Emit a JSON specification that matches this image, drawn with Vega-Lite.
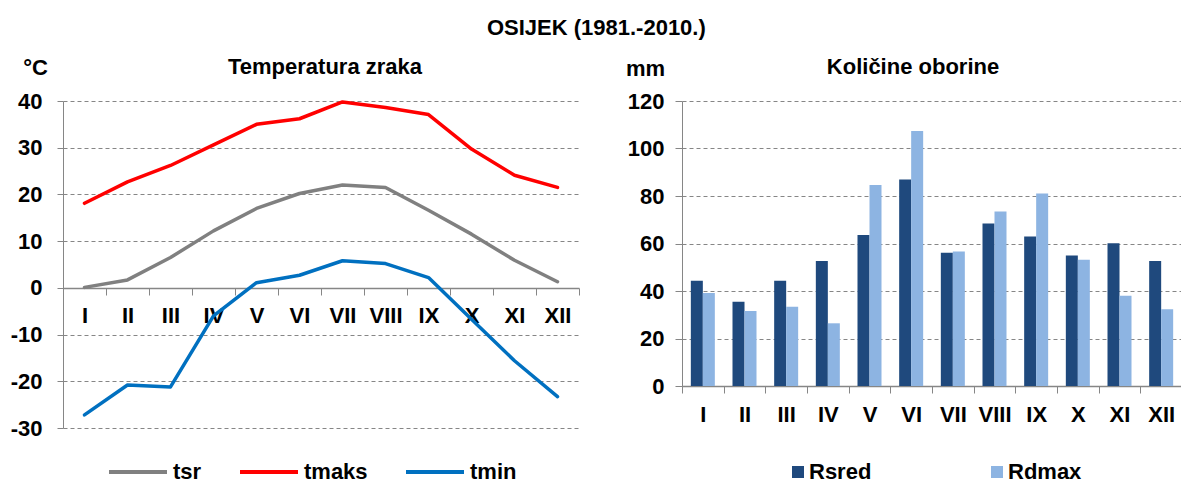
{
  "$schema": "https://vega.github.io/schema/vega-lite/v6.json",
  "background": "white",
  "padding": {"left": 10, "top": 17, "right": 0, "bottom": 0},
  "title": {"text": "OSIJEK (1981.-2010.)", "fontSize": 22, "font": "Liberation Sans", "fontWeight": "bold", "anchor": "middle", "offset": 16, "color": "black"},
  "config": {
    "font": "Liberation Sans",
    "view": {"stroke": null},
    "axis": {"labelFont": "Liberation Sans", "labelFontSize": 22, "labelFontWeight": "bold", "labelColor": "black", "domainColor": "#868686", "tickColor": "#868686", "gridColor": "#868686", "gridDash": [4, 3], "titleFont": "Liberation Sans", "titleFontSize": 22, "titleFontWeight": "bold", "titleColor": "black"},
    "legend": {"labelFont": "Liberation Sans", "labelFontSize": 22, "labelFontWeight": "bold", "labelColor": "black", "padding": 0}
  },
  "spacing": 45,
  "resolve": {"scale": {"color": "independent"}, "legend": {"color": "independent"}},
  "hconcat": [
    {
      "width": 516,
      "height": 327,
      "title": {"text": "Temperatura zraka", "fontSize": 22, "fontWeight": "bold", "font": "Liberation Sans", "color": "black", "frame": "group", "anchor": "middle", "dx": 4, "offset": -23},
      "data": {"values": [
        {"month": "I", "series": "tsr", "value": 0.1},
        {"month": "II", "series": "tsr", "value": 1.7},
        {"month": "III", "series": "tsr", "value": 6.5},
        {"month": "IV", "series": "tsr", "value": 12.2},
        {"month": "V", "series": "tsr", "value": 17.0},
        {"month": "VI", "series": "tsr", "value": 20.2},
        {"month": "VII", "series": "tsr", "value": 22.0},
        {"month": "VIII", "series": "tsr", "value": 21.5},
        {"month": "IX", "series": "tsr", "value": 16.6},
        {"month": "X", "series": "tsr", "value": 11.5},
        {"month": "XI", "series": "tsr", "value": 5.9},
        {"month": "XII", "series": "tsr", "value": 1.3},
        {"month": "I", "series": "tmaks", "value": 18.1},
        {"month": "II", "series": "tmaks", "value": 22.7},
        {"month": "III", "series": "tmaks", "value": 26.2},
        {"month": "IV", "series": "tmaks", "value": 30.6},
        {"month": "V", "series": "tmaks", "value": 35.0},
        {"month": "VI", "series": "tmaks", "value": 36.2},
        {"month": "VII", "series": "tmaks", "value": 39.8},
        {"month": "VIII", "series": "tmaks", "value": 38.6},
        {"month": "IX", "series": "tmaks", "value": 37.1},
        {"month": "X", "series": "tmaks", "value": 29.7},
        {"month": "XI", "series": "tmaks", "value": 24.1},
        {"month": "XII", "series": "tmaks", "value": 21.5},
        {"month": "I", "series": "tmin", "value": -27.2},
        {"month": "II", "series": "tmin", "value": -20.8},
        {"month": "III", "series": "tmin", "value": -21.2},
        {"month": "IV", "series": "tmin", "value": -6.0},
        {"month": "V", "series": "tmin", "value": 1.1},
        {"month": "VI", "series": "tmin", "value": 2.7},
        {"month": "VII", "series": "tmin", "value": 5.8},
        {"month": "VIII", "series": "tmin", "value": 5.2},
        {"month": "IX", "series": "tmin", "value": 2.2},
        {"month": "X", "series": "tmin", "value": -6.7},
        {"month": "XI", "series": "tmin", "value": -15.6},
        {"month": "XII", "series": "tmin", "value": -23.3}
      ]},
      "mark": {"type": "line", "strokeWidth": 3.5, "strokeCap": "round", "strokeJoin": "round"},
      "encoding": {
        "x": {"field": "month", "type": "ordinal", "sort": ["I", "II", "III", "IV", "V", "VI", "VII", "VIII", "IX", "X", "XI", "XII"], "bandPosition": 0.5,
          "scale": {"type": "band", "paddingInner": 0, "paddingOuter": 0},
          "axis": {"title": null, "orient": "bottom", "offset": -140, "tickBand": "extent", "tickSize": 7, "labelPadding": 10, "labelAngle": 0, "grid": false, "domainWidth": 1.5}},
        "y": {"field": "value", "type": "quantitative", "scale": {"domain": [-30, 40], "nice": false, "zero": false},
          "axis": {"values": [-30, -20, -10, 0, 10, 20, 30, 40], "labelExpr": "replace(datum.label, '−', '-')", "title": "°C", "titleAngle": 0, "titleX": -28, "titleY": -34, "titleAlign": "center", "titleBaseline": "middle", "tickSize": 6, "labelPadding": 15, "grid": true}},
        "color": {"field": "series", "type": "nominal", "scale": {"domain": ["tsr", "tmaks", "tmin"], "range": ["#808080", "#FF0000", "#0070C0"]},
          "legend": {"title": null, "orient": "none", "direction": "horizontal", "legendX": 63, "legendY": 359, "symbolType": "M-2.9,0H2.9", "symbolSize": 400, "symbolStrokeWidth": 4, "labelOffset": 23, "columnPadding": 30}}
      }
    },
    {
      "width": 500,
      "height": 285,
      "title": {"text": "Količine oborine", "fontSize": 22, "fontWeight": "bold", "font": "Liberation Sans", "color": "black", "frame": "group", "anchor": "middle", "dx": -19, "offset": -22},
      "data": {"values": [
        {"month": "I", "series": "Rsred", "value": 44.3},
        {"month": "II", "series": "Rsred", "value": 35.5},
        {"month": "III", "series": "Rsred", "value": 44.3},
        {"month": "IV", "series": "Rsred", "value": 52.6},
        {"month": "V", "series": "Rsred", "value": 63.6},
        {"month": "VI", "series": "Rsred", "value": 86.9},
        {"month": "VII", "series": "Rsred", "value": 56.1},
        {"month": "VIII", "series": "Rsred", "value": 68.4},
        {"month": "IX", "series": "Rsred", "value": 63.0},
        {"month": "X", "series": "Rsred", "value": 54.9},
        {"month": "XI", "series": "Rsred", "value": 60.1},
        {"month": "XII", "series": "Rsred", "value": 52.6},
        {"month": "I", "series": "Rdmax", "value": 39.2},
        {"month": "II", "series": "Rdmax", "value": 31.6},
        {"month": "III", "series": "Rdmax", "value": 33.4},
        {"month": "IV", "series": "Rdmax", "value": 26.4},
        {"month": "V", "series": "Rdmax", "value": 84.6},
        {"month": "VI", "series": "Rdmax", "value": 107.4},
        {"month": "VII", "series": "Rdmax", "value": 56.6},
        {"month": "VIII", "series": "Rdmax", "value": 73.5},
        {"month": "IX", "series": "Rdmax", "value": 81.1},
        {"month": "X", "series": "Rdmax", "value": 53.2},
        {"month": "XI", "series": "Rdmax", "value": 38.0},
        {"month": "XII", "series": "Rdmax", "value": 32.3}
      ]},
      "mark": {"type": "bar"},
      "encoding": {
        "x": {"field": "month", "type": "ordinal", "sort": ["I", "II", "III", "IV", "V", "VI", "VII", "VIII", "IX", "X", "XI", "XII"],
          "scale": {"paddingInner": 0, "paddingOuter": 0},
          "axis": {"title": null, "tickBand": "extent", "tickSize": 7, "labelPadding": 11, "labelAngle": 0, "domainWidth": 1.5}},
        "xOffset": {"field": "series", "type": "nominal", "sort": ["Rsred", "Rdmax"], "scale": {"paddingInner": 0, "paddingOuter": 0.736}},
        "y": {"field": "value", "type": "quantitative", "scale": {"domain": [0, 120], "nice": false},
          "axis": {"values": [0, 20, 40, 60, 80, 100, 120], "title": "mm", "titleAngle": 0, "titleX": -37, "titleY": -33, "titleAlign": "center", "titleBaseline": "middle", "tickSize": 7, "labelPadding": 11, "grid": true}},
        "color": {"field": "series", "type": "nominal", "scale": {"domain": ["Rsred", "Rdmax"], "range": ["#1F497D", "#8DB4E2"]},
          "legend": {"title": null, "orient": "none", "direction": "horizontal", "legendX": 105, "legendY": 360, "symbolType": "square", "symbolSize": 144, "symbolStrokeWidth": 0, "symbolOpacity": 1, "labelOffset": 0, "columnPadding": 114}}
      }
    }
  ]
}
